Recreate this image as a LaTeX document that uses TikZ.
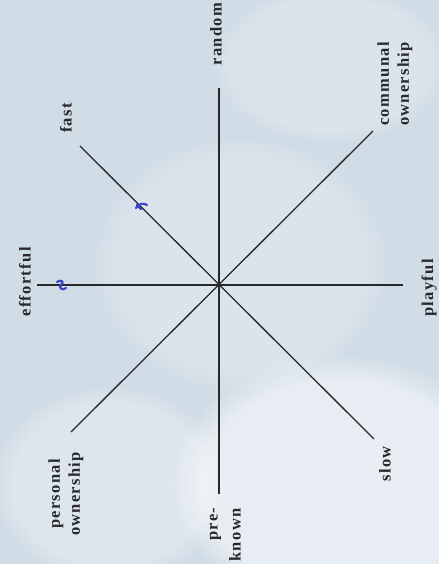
\documentclass[tikz,border=0pt]{standalone}
\usepackage{fontspec}
\usetikzlibrary{fadings}
\setmainfont{Liberation Serif}[LetterSpace=8]
\definecolor{paper}{RGB}{208,220,230}
\definecolor{ink}{RGB}{40,40,42}
\definecolor{pen}{RGB}{55,70,200}
\begin{document}
\begin{tikzpicture}[x=1pt,y=1pt,
  axis/.style={draw=ink,line width=1.3pt},
  lbl/.style={text=ink,font=\fontsize{16.5}{20}\selectfont\bfseries,rotate=90,inner sep=0pt},
  penmark/.style={draw=pen,line width=2.2pt,line cap=round,line join=round},
  glow/.style={fill=white,path fading=circle with fuzzy edge 20 percent}]
\useasboundingbox (0,0) rectangle (439,564);
\fill[paper] (0,0) rectangle (439,564);
\fill[glow,opacity=0.5] (340,80) ellipse (170 and 130);
\fill[glow,opacity=0.25] (240,300) ellipse (150 and 130);
\fill[glow,opacity=0.3] (110,80) ellipse (120 and 100);
\fill[glow,opacity=0.25] (330,500) ellipse (120 and 80);
% hub and spoke ends
\coordinate (c) at (219,279);
\coordinate (efE) at (37,279);
\coordinate (plE) at (403,279);
\coordinate (raE) at (219,476);
\coordinate (prE) at (219,70);
\coordinate (faE) at (80,418);
\coordinate (slE) at (374,125);
\coordinate (peE) at (71,132);
\coordinate (coE) at (373,433);
\draw[axis] (efE) -- (plE);
\draw[axis] (raE) -- (prE);
\draw[axis] (faE) -- (slE);
\draw[axis] (peE) -- (coE);
% labels
\node[lbl] (ef) at (25,282) {effortful};
\node[lbl] (pl) at (429,276) {playful};
\node[lbl] (ra) at (216,530) {random};
\node[lbl] (fa) at (66,446) {fast};
\node[lbl] (sl) at (385,100) {slow};
\node[lbl,align=center] (co) at (395,480) {communal\\ownership};
\node[lbl,align=center] (pe) at (66,70) {personal\\ownership};
\node[lbl] (pre) at (215.5,40) {pre-};
\node[lbl] (kn) at (235,29) {known};
% blue pen marks
\coordinate (m1) at (61,279);
\coordinate (m2) at (141,358);
\draw[penmark] ([shift={(-4,3)}]m1) .. controls ([shift={(0,6)}]m1) and ([shift={(4,3)}]m1) .. ([shift={(0,0)}]m1) .. controls ([shift={(-3,-3)}]m1) and ([shift={(2,-6)}]m1) .. ([shift={(5,-3)}]m1);
\draw[penmark] ([shift={(-5,-2)}]m2) .. controls ([shift={(-2,3)}]m2) and ([shift={(3,3)}]m2) .. ([shift={(6,1)}]m2);
\draw[penmark] ([shift={(-4,1)}]m2) -- ([shift={(0,-3)}]m2);
\end{tikzpicture}
\end{document}
